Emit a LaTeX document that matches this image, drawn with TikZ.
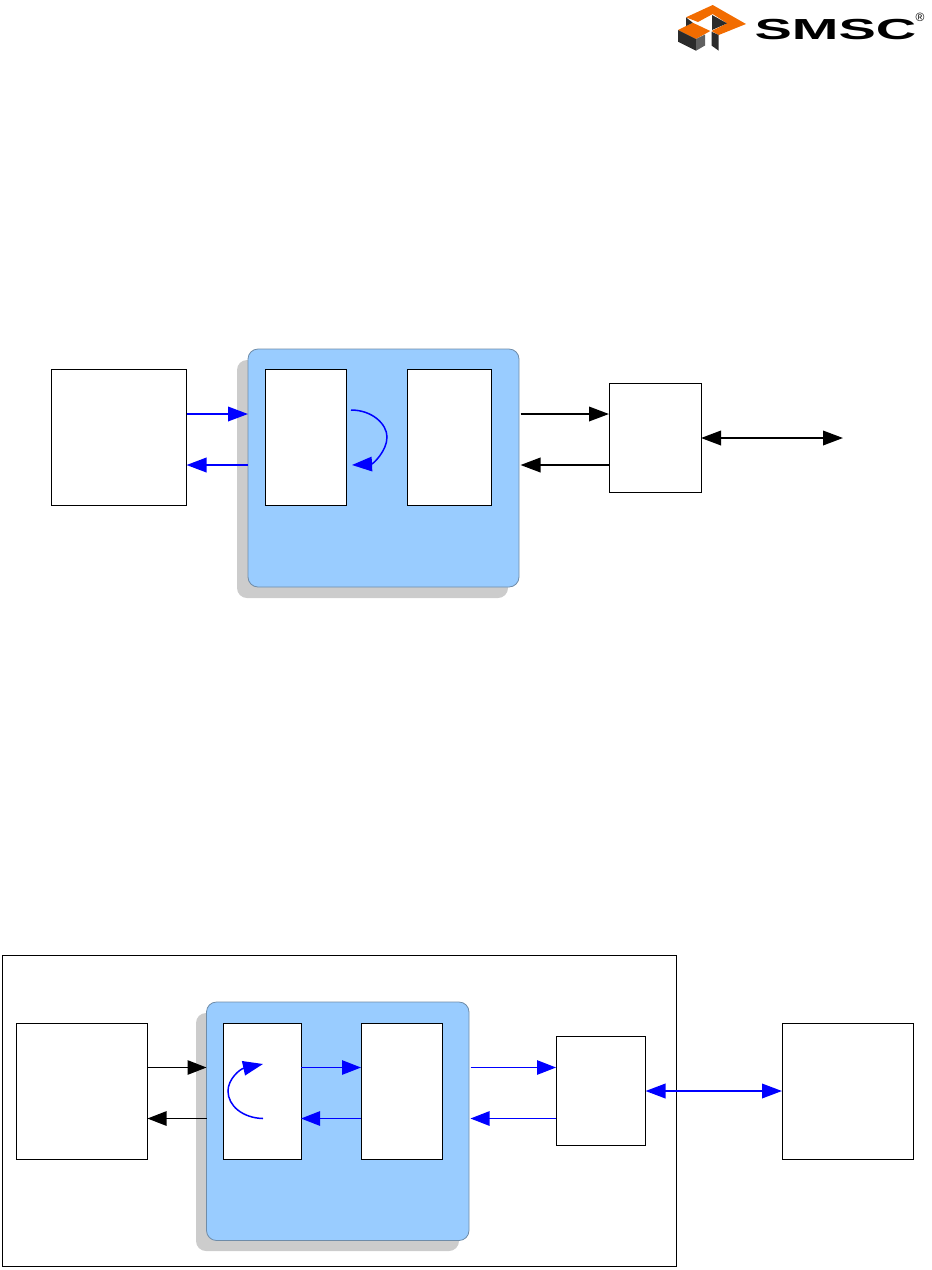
\documentclass[tikz,border=0pt]{standalone}
\usepackage{fontspec}
\setmainfont{Liberation Sans}
\usetikzlibrary{arrows.meta}
\definecolor{panel}{HTML}{99CCFF}
\definecolor{panelline}{HTML}{6F8CA8}
\definecolor{shade}{HTML}{CCCCCC}
\definecolor{flow}{HTML}{0000FF}
\definecolor{logoorange}{HTML}{F26C00}
\definecolor{logodark}{HTML}{2B2B2B}
\tikzset{
  box/.style={draw=black,fill=white,line width=0.9pt,inner sep=0pt,outer sep=0pt,anchor=north west},
  panelbox/.style={draw=panelline,fill=panel,line width=0.8pt,rounded corners=10pt,inner sep=0pt,outer sep=0pt,anchor=north west},
  shadebox/.style={fill=shade,rounded corners=10pt,inner sep=0pt,outer sep=0pt,anchor=north west},
  thick link/.style={line width=2pt,-{Triangle[length=20pt,width=14.5pt]}},
  thin link/.style={line width=1.1pt,-{Triangle[length=19pt,width=14.5pt]}},
  both thick/.style={line width=2pt,{Triangle[length=20pt,width=14.5pt]}-{Triangle[length=20pt,width=14.5pt]}},
  loopline/.style={line width=1.5pt,draw=flow,-{Triangle[length=20pt,width=14.5pt]}},
}
\newcommand{\blockat}[6]{\node[#1,minimum width=#5pt - #3pt,minimum height=#6pt - #4pt] (#2) at (#3,#4) {};}
\begin{document}
\begin{tikzpicture}[x=1pt,y=-1pt]
\useasboundingbox (0,0) rectangle (932,1270);
% logo
\fill[logoorange] (712.7,5) -- (746,24) -- (718.7,35) -- (711.5,31) -- (727,23.3) -- (712.7,14) -- (698,22) -- (686,17.3) -- cycle;
\fill[logoorange] (678,30) -- (692.7,22.7) -- (710.3,31) -- (696,39) -- cycle;
\fill[logodark] (678,30) -- (696,39) -- (696,50.7) -- (678,41.7) -- cycle;
\fill[logodark!75] (696,39) -- (705,34.5) -- (705,45.5) -- (696,50.7) -- cycle;
\fill[logodark] (686,17.3) -- (692.7,22.7) -- (686,26) -- cycle;
\fill[logodark] (712,15) -- (727,23.3) -- (712,30) -- cycle;
\fill[logodark] (711.5,31.7) -- (718.7,35) -- (718.7,50.7) -- (711.5,45.5) -- cycle;
\node[inner sep=0pt,font=\bfseries\fontsize{29}{29}\selectfont,xscale=1.93,anchor=center] (brand) at (835.5,29.5) {SMSC};
\node[inner sep=0pt,font=\fontsize{12}{12}\selectfont,anchor=center] (reg) at (920,17) {®};
% upper figure
\blockat{box}{hostA}{51}{369}{186.5}{505}
\blockat{shadebox}{shadeA}{237}{360}{508}{598}
\blockat{panelbox}{panelA}{248}{349}{519}{587}
\blockat{box}{leftA}{265}{369}{346.5}{505}
\blockat{box}{rightA}{407}{369}{491.5}{505}
\blockat{box}{phyA}{609}{383}{701}{492}
\coordinate (endA) at (843,438);
\coordinate (upA) at (0,414);
\coordinate (dnA) at (0,465);
\coordinate (gapAe) at ([xshift=1.5pt]panelA.east);
\draw[thick link,flow] (hostA.east |- upA) -- (panelA.west |- upA);
\draw[thick link,flow] (panelA.west |- dnA) -- (hostA.east |- dnA);
\draw[thick link] (gapAe |- upA) -- (phyA.west |- upA);
\draw[thick link] (phyA.west |- dnA) -- (gapAe |- dnA);
\draw[both thick] (phyA.east |- endA) -- (endA);
\coordinate (loopAs) at (351,410);
\coordinate (loopAe) at (352,465);
\draw[loopline] (loopAs) .. controls (372,410) and (387,424) .. (387,437) .. controls (387,451) and (373,464) .. (loopAe);
% lower figure
\node[draw=black,line width=0.8pt,inner sep=0pt,outer sep=0pt,anchor=north west,minimum width=674.5pt,minimum height=311.5pt] (frame) at (2,955) {};
\blockat{box}{hostB}{16}{1023}{147.5}{1159}
\blockat{shadebox}{shadeB}{196}{1013}{459}{1251}
\blockat{panelbox}{panelB}{206.5}{1002}{469}{1240.5}
\blockat{box}{leftB}{223}{1023}{301}{1159}
\blockat{box}{rightB}{361}{1023}{442.5}{1159}
\blockat{box}{phyB}{556}{1036}{645.5}{1145}
\blockat{box}{farB}{782}{1023}{913.5}{1159}
\coordinate (upB) at (0,1067.5);
\coordinate (dnB) at (0,1118.5);
\coordinate (midB) at (0,1091);
\coordinate (gapBe) at ([xshift=1.5pt]panelB.east);
\draw[thin link] (hostB.east |- upB) -- (panelB.west |- upB);
\draw[thin link] (panelB.west |- dnB) -- (hostB.east |- dnB);
\draw[thin link,flow] (leftB.east |- upB) -- (rightB.west |- upB);
\draw[thin link,flow] (rightB.west |- dnB) -- (leftB.east |- dnB);
\draw[thin link,flow] (gapBe |- upB) -- (phyB.west |- upB);
\draw[thin link,flow] (phyB.west |- dnB) -- (gapBe |- dnB);
\draw[both thick,flow] (phyB.east |- midB) -- (farB.west |- midB);
\coordinate (loopBs) at (263,1118.5);
\coordinate (loopBe) at (263,1064);
\draw[loopline] (loopBs) .. controls (243,1118) and (228,1106) .. (228,1091) .. controls (228,1079) and (240,1069) .. (loopBe);
\end{tikzpicture}
\end{document}
